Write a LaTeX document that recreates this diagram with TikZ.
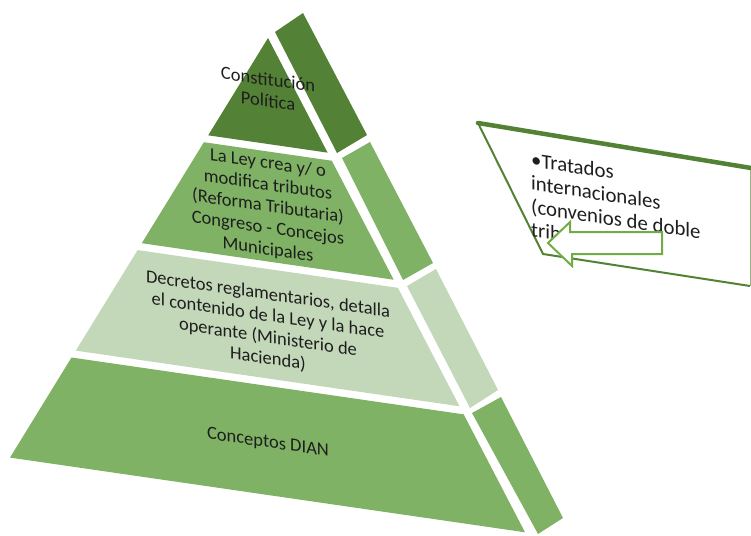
\documentclass[tikz,border=0pt]{standalone}
\usepackage{fontspec}
\setmainfont{Carlito}
\definecolor{gdark}{HTML}{538135}
\definecolor{gmid}{HTML}{7FB265}
\definecolor{glight}{HTML}{C3D7B9}
\definecolor{gline}{HTML}{548235}
\definecolor{garrow}{HTML}{70AD47}
\definecolor{txt}{HTML}{1E1E1E}
\begin{document}
\begin{tikzpicture}[x=1pt,y=-1pt,
  lvltext/.style={align=center,text=txt,inner sep=0pt,transform shape,
    font=\fontsize{18.5}{21.5}\selectfont},
  calltext/.style={align=left,text=txt,inner sep=0pt,anchor=north west,
    yslant=-0.15,font=\fontsize{20.8}{23.3}\selectfont}]
\useasboundingbox (0,0) rectangle (751,535);
% side panels
\fill[gdark]  (275,32) -- (303,13) -- (367,135) -- (337,153) -- cycle;
\fill[gmid]   (342,158) -- (370,142) -- (433,263) -- (403,280) -- cycle;
\fill[glight] (407,286) -- (436,269) -- (498,390) -- (470,408) -- cycle;
\fill[gmid]   (472,413) -- (501,397) -- (563,518) -- (538,534) -- cycle;
% pyramid levels in the un-slanted frame
\begin{scope}[shift={(0,-38.86)},yslant=-0.145]
  \fill[gdark]  (268,38) -- (327.6,144) -- (208.2,144) -- cycle;
  \fill[gmid]   (203.9,151.5) -- (331.8,151.5) -- (393.7,261.5) -- (141.8,261.5) -- cycle;
  \fill[glight] (137.6,269) -- (397.9,269) -- (459.5,378.5) -- (75.8,378.5) -- cycle;
  \fill[gmid]   (71.5,386) -- (463.7,386) -- (525,495) -- (10,495) -- cycle;
  \node[lvltext] (t1) at (268,90) {Constitución\\Política};
  \node[lvltext] (t2) at (268,207) {La Ley crea y/ o\\modifica tributos\\(Reforma Tributaria)\\Congreso - Concejos\\Municipales};
  \node[lvltext] (t3) at (268,327) {Decretos reglamentarios, detalla\\el contenido de la Ley y la hace\\operante (Ministerio de\\Hacienda)};
  \node[lvltext] (t4) at (268,443) {Conceptos DIAN};
\end{scope}
% callout box
\fill[white] (478,123) -- (750,167) -- (750,286) -- (543,254) -- cycle;
\draw[gline,line width=2pt,line join=round] (478,123) -- (543,254) -- (750,286);
\draw[gline!60,line width=0.8pt] (750,167) -- (750,286);
\draw[gline,line width=4.5pt,line cap=round] (478,123) -- (751,168);
\node[calltext] (ct) at (531,152) {•Tratados\\internacionales\\(convenios de doble\\trib};
% arrow
\draw[garrow,fill=white,line width=2pt,line join=miter]
  (548,243) -- (570,222) -- (570,232) -- (662,232) -- (662,254) -- (572,254) -- (572,266) -- cycle;
\end{tikzpicture}
\end{document}
